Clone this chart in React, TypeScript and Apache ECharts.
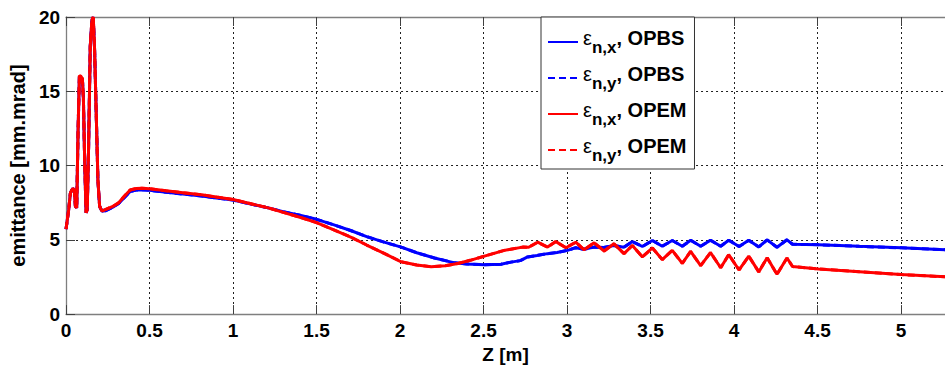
import React, { useEffect, useRef } from "react";
import * as echarts from "echarts";

// Beam line position Z [m]
const opbsZ = [
  0, 0.016, 0.026, 0.04, 0.05, 0.056, 0.064, 0.072, 0.08, 0.09, 0.098, 0.104, 0.112, 0.12, 0.127, 0.135,
  0.145, 0.155, 0.163, 0.171, 0.181, 0.191, 0.201, 0.215, 0.235, 0.28, 0.315, 0.35, 0.384, 0.42, 0.454,
  0.5, 0.6, 0.7, 0.812, 0.9, 1.0, 1.1, 1.211, 1.3, 1.4, 1.5, 1.6, 1.708, 1.8, 1.9, 2.007, 2.1, 2.206,
  2.326, 2.4, 2.505, 2.605, 2.664, 2.72, 2.764, 2.82, 2.883, 2.94, 3.003, 3.052, 3.1, 3.162, 3.22, 3.28,
  3.34, 3.391, 3.451, 3.511, 3.57, 3.63, 3.69, 3.74, 3.8, 3.859, 3.92, 3.968, 4.03, 4.088, 4.148, 4.198,
  4.257, 4.317, 4.35, 4.506, 4.75, 5.0, 5.263,
];
// Normalized emittance, OPBS [mm.mrad]
const opbsEps = [
  5.72, 7.04, 8.14, 8.47, 8.36, 7.26, 7.15, 12.3, 16.0, 15.9, 15.8, 14.5, 10.1, 6.82, 7.04, 11.2,
  18.0, 19.8, 20.0, 17.8, 13.4, 9.0, 7.26, 6.93, 6.95, 7.2, 7.45, 7.85, 8.25, 8.35, 8.37,
  8.33, 8.2, 8.08, 7.95, 7.82, 7.68, 7.42, 7.15, 6.9, 6.65, 6.38, 6.02, 5.61, 5.22, 4.86, 4.51, 4.13, 3.78,
  3.45, 3.38, 3.33, 3.35, 3.5, 3.6, 3.85, 3.95, 4.07, 4.15, 4.29, 4.47, 4.36, 4.51, 4.48, 4.62,
  4.5, 4.88, 4.55, 4.95, 4.57, 4.95, 4.57, 4.97, 4.57, 4.97, 4.57, 4.97, 4.55, 4.97, 4.52, 5.0,
  4.5, 5.0, 4.7, 4.67, 4.56, 4.46, 4.34,
];

const opemZ = [
  0, 0.016, 0.026, 0.04, 0.05, 0.056, 0.064, 0.072, 0.08, 0.09, 0.098, 0.104, 0.112, 0.12, 0.127, 0.135,
  0.145, 0.155, 0.163, 0.171, 0.181, 0.191, 0.201, 0.215, 0.235, 0.28, 0.315, 0.35, 0.384, 0.42, 0.454,
  0.5, 0.6, 0.7, 0.812, 0.9, 1.0, 1.1, 1.211, 1.3, 1.4, 1.5, 1.6, 1.708, 1.8, 1.908, 2.007, 2.1, 2.186,
  2.27, 2.346, 2.42, 2.505, 2.624, 2.734, 2.77, 2.824, 2.883, 2.933, 2.993, 3.052, 3.102, 3.162, 3.222,
  3.281, 3.341, 3.391, 3.451, 3.511, 3.57, 3.63, 3.69, 3.74, 3.8, 3.859, 3.92, 3.968, 4.03, 4.088, 4.148,
  4.198, 4.257, 4.317, 4.35, 4.506, 4.75, 5.0, 5.263,
];
// Normalized emittance, OPEM [mm.mrad]
const opemEps = [
  5.72, 7.04, 8.14, 8.47, 8.36, 7.26, 7.15, 12.3, 16.06, 16.0, 15.84, 14.5, 10.1, 6.82, 7.04, 11.2,
  18.04, 19.8, 20.0, 17.8, 13.4, 9.02, 7.26, 6.93, 7.04, 7.25, 7.5, 7.95, 8.36, 8.45, 8.47,
  8.44, 8.3, 8.17, 8.03, 7.88, 7.72, 7.45, 7.15, 6.85, 6.52, 6.16, 5.68, 5.17, 4.65, 4.07, 3.52, 3.3, 3.19,
  3.25, 3.41, 3.62, 3.9, 4.29, 4.51, 4.5, 4.84, 4.51, 4.88, 4.47, 4.84, 4.33, 4.8, 4.25,
  4.73, 4.07, 4.62, 3.85, 4.45, 3.67, 4.29, 3.41, 4.22, 3.26, 4.14, 3.12, 4.0, 2.97, 3.9, 2.84,
  3.8, 2.68, 3.78, 3.2, 3.04, 2.85, 2.66, 2.51,
];

const seriesNames = ["ε_{n,x}, OPBS", "ε_{n,y}, OPBS", "ε_{n,x}, OPEM", "ε_{n,y}, OPEM"];
const yTicks = [0, 5, 10, 15, 20];
const zMax = 5.263;

const FONT = "'Liberation Sans', Arial, sans-serif";

function pairs(z: number[], v: number[]) {
  return z.map((zz, i) => [zz, v[i]]);
}

export default function App() {
  const ref = useRef<HTMLDivElement>(null);

  useEffect(() => {
    if (!ref.current) return;
    const chart = echarts.init(ref.current, undefined, { renderer: "svg" });

    const opbs = pairs(opbsZ, opbsEps);
    const opem = pairs(opemZ, opemEps);
    const lineSeries = (name: string, data: number[][], color: string, dashed: boolean) => ({
      name,
      type: "line",
      data,
      symbol: "none",
      showSymbol: false,
      lineStyle: { color, width: 3, type: dashed ? [7, 4] : "solid" },
      itemStyle: { color },
      z: 3,
    });

    const tickStyle = { show: true, inside: true, length: 9, lineStyle: { color: "#404040", width: 1 } };
    const lineAxis = { show: true, lineStyle: { color: "#7f7f7f", width: 1.3 } };
    const gridLine = { show: true, lineStyle: { color: "#202020", width: 1, type: [2, 3] } };
    const labelStyle = { color: "#000", fontFamily: FONT, fontWeight: "bold", fontSize: 19 };

    chart.setOption({
      animation: false,
      backgroundColor: "#fff",
      grid: { left: 64, top: 17, width: 881, height: 303, containLabel: false },
      xAxis: [
        {
          type: "value",
          min: 0,
          max: zMax,
          interval: 0.5,
          position: "bottom",
          name: "Z [m]",
          nameLocation: "middle",
          nameGap: 27,
          nameTextStyle: { ...labelStyle, fontSize: 19 },
          axisLine: lineAxis,
          axisTick: tickStyle,
          axisLabel: { ...labelStyle, margin: 7, showMaxLabel: false },
          splitLine: gridLine,
        },
        {
          type: "value",
          min: 0,
          max: zMax,
          interval: 0.5,
          position: "top",
          axisLine: lineAxis,
          axisTick: tickStyle,
          axisLabel: { show: false },
          splitLine: { show: false },
        },
      ],
      yAxis: {
        type: "value",
        min: yTicks[0],
        max: yTicks[yTicks.length - 1],
        interval: 5,
        name: "emittance [mm.mrad]",
        nameLocation: "middle",
        nameGap: 28,
        nameTextStyle: { ...labelStyle, fontSize: 20 },
        axisLine: lineAxis,
        axisTick: tickStyle,
        axisLabel: { ...labelStyle, margin: 6 },
        splitLine: gridLine,
      },
      legend: {
        orient: "vertical",
        left: 541,
        top: 17,
        padding: [11, 8, 5, 6],
        itemWidth: 30,
        itemHeight: 12,
        itemGap: 8,
        backgroundColor: "#fff",
        borderColor: "#333",
        borderWidth: 1,
        itemStyle: { opacity: 0 },
        data: seriesNames,
        formatter: (name: string) => {
          const m = /^ε_\{(.*?)\}(.*)$/.exec(name);
          return m ? `{e|ε}{s|${m[1]}}{t|${m[2]}}` : name;
        },
        textStyle: {
          color: "#000",
          rich: {
            e: { fontFamily: FONT, fontSize: 20, fontWeight: "normal", lineHeight: 20, padding: [0, 0, 8, 0], color: "#000" },
            s: { fontFamily: FONT, fontSize: 17, fontWeight: "bold", lineHeight: 17, padding: [11, 0, 0, 0], color: "#000" },
            t: { fontFamily: FONT, fontSize: 20, fontWeight: "bold", lineHeight: 20, padding: [0, 0, 8, 0], color: "#000" },
          },
        },
      },
      series: [
        lineSeries(seriesNames[0], opbs, "#0000ff", false),
        lineSeries(seriesNames[1], opbs, "#0000ff", true),
        lineSeries(seriesNames[2], opem, "#ff0000", false),
        lineSeries(seriesNames[3], opem, "#ff0000", true),
      ],
    });

    return () => chart.dispose();
  }, []);

  return (
    <div
      ref={ref}
      style={{ position: "absolute", left: 0, top: 0, width: 945, height: 369, background: "#fff" }}
    />
  );
}
